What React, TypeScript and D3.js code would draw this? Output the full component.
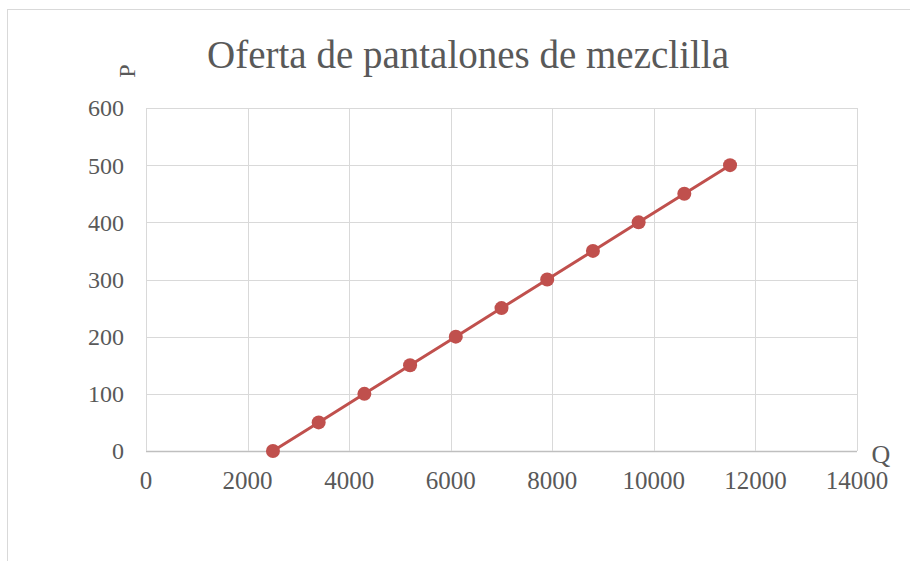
import { useEffect, useRef } from 'react';
import * as d3 from 'd3';

// Data
const quantities = [2500, 3400, 4300, 5200, 6100, 7000, 7900, 8800, 9700, 10600, 11500];
const prices = [0, 50, 100, 150, 200, 250, 300, 350, 400, 450, 500];
const xTicks = [0, 2000, 4000, 6000, 8000, 10000, 12000, 14000];
const yTicks = [0, 100, 200, 300, 400, 500, 600];

const title = "Oferta de pantalones de mezclilla";
const width = 910;
const height = 561;
const font = "'Liberation Serif', 'DejaVu Serif', serif";

function App() {
    const ref = useRef<SVGSVGElement>(null);

    useEffect(() => {
        const svg = d3.select(ref.current);
        svg.selectAll("*").remove();

        const x = d3.scaleLinear().domain([0, 14000]).range([146, 857]);
        const y = d3.scaleLinear().domain([0, 600]).range([451, 108]);

        // Chart border
        svg.append("rect")
            .attr("x", 7.5).attr("y", 9.5)
            .attr("width", 920).attr("height", 570)
            .attr("fill", "white")
            .attr("stroke", "#d9d9d9");

        // Grid
        const grid = svg.append("g");
        grid.selectAll("line.h")
            .data(yTicks)
            .enter().append("line")
            .attr("x1", x(0)).attr("x2", x(14000))
            .attr("y1", d => Math.round(y(d)) + 0.5).attr("y2", d => Math.round(y(d)) + 0.5)
            .attr("stroke", d => d === 0 ? "#bfbfbf" : "#d9d9d9")
            .attr("stroke-width", d => d === 0 ? 1.5 : 1);
        grid.selectAll("line.v")
            .data(xTicks)
            .enter().append("line")
            .attr("y1", y(0)).attr("y2", y(600))
            .attr("x1", d => Math.round(x(d)) + 0.5).attr("x2", d => Math.round(x(d)) + 0.5)
            .attr("stroke", "#d9d9d9");

        // Tick labels
        svg.append("g").selectAll("text")
            .data(yTicks)
            .enter().append("text")
            .attr("x", 124).attr("y", d => y(d))
            .attr("dy", "0.35em")
            .attr("text-anchor", "end")
            .attr("font-family", font).attr("font-size", 24)
            .attr("fill", "#595959")
            .text(d => d);
        svg.append("g").selectAll("text")
            .data(xTicks)
            .enter().append("text")
            .attr("x", d => x(d)).attr("y", 489)
            .attr("text-anchor", "middle")
            .attr("font-family", font).attr("font-size", 25)
            .attr("fill", "#595959")
            .text(d => d);

        // Axis titles
        svg.append("text")
            .attr("x", 881).attr("y", 463)
            .attr("text-anchor", "middle")
            .attr("font-family", font).attr("font-size", 26)
            .attr("fill", "#595959")
            .text("Q");
        svg.append("text")
            .attr("transform", "translate(135,71) rotate(-90)")
            .attr("text-anchor", "middle")
            .attr("font-family", font).attr("font-size", 24)
            .attr("fill", "#595959")
            .text("P");

        // Title
        svg.append("text")
            .attr("x", 468).attr("y", 68)
            .attr("text-anchor", "middle")
            .attr("font-family", font).attr("font-size", 39)
            .attr("fill", "#595959")
            .text(title);

        // Series
        const points = quantities.map((q, i) => [q, prices[i]] as [number, number]);
        const line = d3.line<[number, number]>()
            .x(d => x(d[0]))
            .y(d => y(d[1]));
        svg.append("path")
            .datum(points)
            .attr("d", line)
            .attr("fill", "none")
            .attr("stroke", "#c0504d")
            .attr("stroke-width", 3);
        svg.append("g").selectAll("circle")
            .data(points)
            .enter().append("circle")
            .attr("cx", d => x(d[0]))
            .attr("cy", d => y(d[1]))
            .attr("r", 7)
            .attr("fill", "#c0504d");
    }, []);

    return (
        <svg ref={ref} width={width} height={height}
            style={{ position: "absolute", left: 0, top: 0 }} />
    );
}

export default App;
